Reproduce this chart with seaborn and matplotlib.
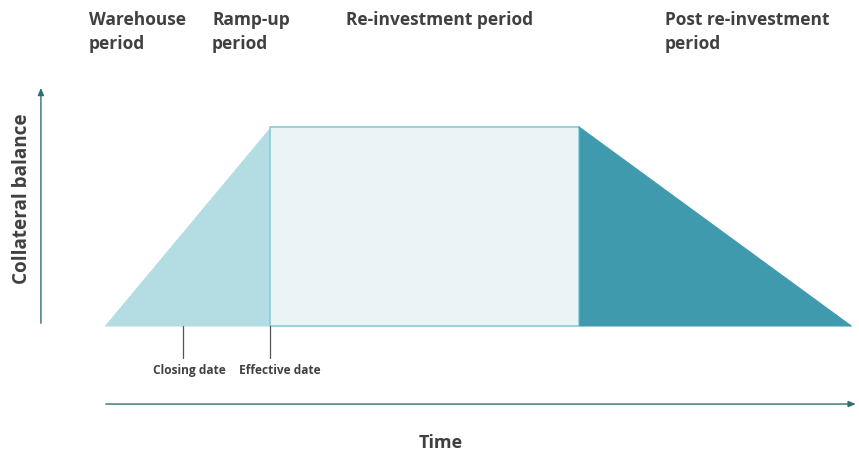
import matplotlib
matplotlib.use("Agg")
import matplotlib.pyplot as plt
import seaborn as sns
import pandas as pd

# Collateral balance profile over the life of the deal (time in arbitrary units)
time_pts = [0.0, 2.0, 5.72, 9.0]
balance = [0.0, 1.0, 1.0, 0.0]
closing_date = 0.95
effective_date = 2.0

phase_labels = ["Warehouse\nperiod", "Ramp-up\nperiod", "Re-investment period",
                "Post re-investment\nperiod"]
date_labels = ["Closing date", "Effective date"]

ramp_color = "#b3dce3"
reinvest_color = "#eaf4f7"
reinvest_edge = "#8ccad6"
post_color = "#3f9aae"
axis_color = "#2e6f75"
text_color = "#404040"

sns.set_theme(style="white")
plt.rcParams["font.family"] = ["Open Sans", "DejaVu Sans"]

df = pd.DataFrame({"Time": time_pts, "Balance": balance})

fig = plt.figure(figsize=(8.59, 4.53), dpi=100)
ax = fig.add_axes([0, 0, 1, 1])

# Ramp-up (incl. warehouse) triangle
ax.fill_between(df["Time"][:2], 0, df["Balance"][:2], color=ramp_color, lw=0)
# Re-investment rectangle
ax.fill_between(df["Time"][1:3], 0, df["Balance"][1:3], color=reinvest_color,
                edgecolor=reinvest_edge, lw=1.2)
# Post re-investment amortisation
ax.fill_between(df["Time"][2:], 0, df["Balance"][2:], color=post_color, lw=0)
sns.lineplot(data=df.iloc[2:], x="Time", y="Balance", ax=ax, color=post_color, lw=1)

# Date markers (labels sit a little right of their tick, as in the original)
for d, lab, dx in zip([closing_date, effective_date], date_labels, [5, 7]):
    ax.plot([d, d], [0, -0.16], color="#555555", lw=0.9)
    ax.annotate(lab, xy=(d, -0.225), xytext=(dx, 0), textcoords="offset points",
                ha="center", va="center", fontsize=8.6, fontweight="bold",
                color=text_color)

ax.set_xlim(-1.253, 9.096)
ax.set_ylim(-0.638, 1.638)
ax.axis("off")

# Axis arrows
ax.annotate("", xy=(-0.76, 1.21), xytext=(-0.76, 0.0),
            arrowprops=dict(arrowstyle="-|>,head_length=0.35,head_width=0.15",
                            color=axis_color, lw=1))
ax.annotate("", xy=(9.09, -0.392), xytext=(-0.012, -0.392),
            arrowprops=dict(arrowstyle="-|>,head_length=0.35,head_width=0.15",
                            color=axis_color, lw=1))

# Titles
title_kw = dict(fontsize=12.5, fontweight="bold", color=text_color, va="top",
                ha="left", linespacing=1.4)
top = 1 - 11 / 453
fig.text(89 / 859, top, phase_labels[0], **title_kw)
fig.text(212 / 859, top, phase_labels[1], **title_kw)
fig.text(346 / 859, top, phase_labels[2], **title_kw)
fig.text(665 / 859, top, phase_labels[3], **title_kw)

fig.text(22 / 859, 1 - 199 / 453, "Collateral balance", rotation=90, ha="center",
         va="center", fontsize=13.6, fontweight="bold", color=text_color)
fig.text(441 / 859, 1 - 443 / 453, "Time", ha="center", va="center",
         fontsize=13, fontweight="bold", color=text_color)

fig.savefig("out.png", dpi=100)
